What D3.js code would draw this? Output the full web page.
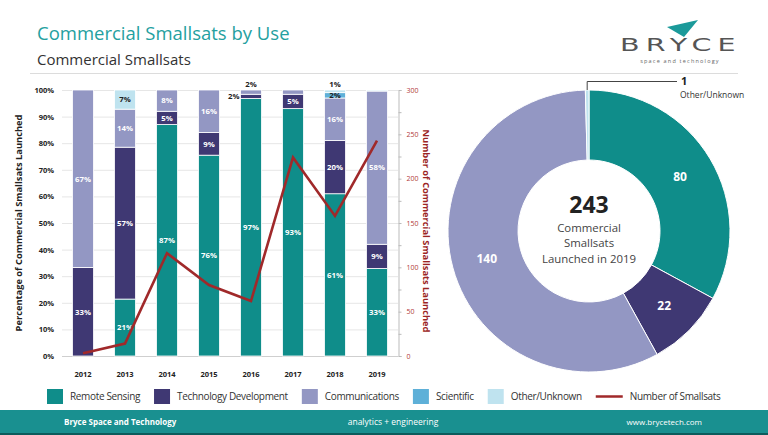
<!DOCTYPE html>
<html>
<head>
<meta charset="utf-8">
<script src="https://cdn.jsdelivr.net/npm/d3@7"></script>
<style>
  body { margin: 0; background: #fff; }
  svg { display: block; font-family: "Open Sans", sans-serif; }
</style>
</head>
<body>
<svg id="chart" width="768" height="435"></svg>
<script>
"use strict";

// shares of launches per year, in percent
const years = [2012, 2013, 2014, 2015, 2016, 2017, 2018, 2019];
const remoteSensing = [0, 21.4, 87, 75.5, 96.8, 93, 61, 32.9];
const techDevelopment = [33.3, 57.1, 5, 8.5, 1.6, 5.4, 20, 9.1];
const communications = [66.7, 14.3, 8, 16, 1.6, 1.6, 16, 57.6];
const scientific = [0, 0, 0, 0, 0, 0, 2, 0];
const otherUnknown = [0, 7.2, 0, 0, 0, 0, 1, 0.4];
const smallsatCount = [3, 14, 116, 80, 62, 224, 158, 243];

const pctTicks = [0, 10, 20, 30, 40, 50, 60, 70, 80, 90, 100];
const countTicks = [0, 50, 100, 150, 200, 250, 300];

const donutNames = ["Remote Sensing", "Technology Development", "Communications", "Other/Unknown"];
const donutValues = [80, 22, 140, 1];

const series = [
  { key: "remote", name: "Remote Sensing", values: remoteSensing, color: "#0f8d8a", text: "#fff" },
  { key: "tech", name: "Technology Development", values: techDevelopment, color: "#3f3873", text: "#fff" },
  { key: "comms", name: "Communications", values: communications, color: "#9397c3", text: "#fff" },
  { key: "sci", name: "Scientific", values: scientific, color: "#5eb0d8", text: "#222" },
  { key: "other", name: "Other/Unknown", values: otherUnknown, color: "#bfe3ef", text: "#222" }
];
const seriesColor = new Map(series.map(s => [s.name, s.color]));

// labels of thin segments that are placed outside the bar
const smallLabels = [
  { year: 2016, key: "tech", place: "left" },
  { year: 2016, key: "comms", place: "top" },
  { year: 2018, key: "sci", place: "inside" },
  { year: 2018, key: "other", place: "top" }
];

const svg = d3.select("#chart");

// ---------- header ----------
svg.append("text").attr("x", 37).attr("y", 40)
  .attr("font-size", 18.5).attr("fill", "#24a0a0")
  .text("Commercial Smallsats by Use");
svg.append("text").attr("x", 37).attr("y", 65)
  .attr("font-size", 15).attr("fill", "#333")
  .text("Commercial Smallsats");
svg.append("line").attr("x1", 30).attr("x2", 738).attr("y1", 73.5).attr("y2", 73.5)
  .attr("stroke", "#dcdcdc").attr("stroke-width", 1);

// logo
const logo = svg.append("g");
logo.append("path").attr("d", "M667,27 L698,20 L684,37 Z").attr("fill", "#1b9a9a");
logo.append("text")
  .attr("transform", "translate(620,51) scale(1.68,1.05)")
  .attr("font-family", "DejaVu Sans, sans-serif").attr("font-size", 17)
  .attr("letter-spacing", 3.6).attr("fill", "#555")
  .text("BRYCE");
logo.append("text").attr("x", 680).attr("y", 63).attr("text-anchor", "middle")
  .attr("font-size", 5.5).attr("letter-spacing", 1.2).attr("fill", "#666")
  .text("space and technology");

// ---------- stacked bars ----------
const plot = { left: 62, right: 398, top: 90, bottom: 356 };

const x = d3.scaleBand().domain(years)
  .range([plot.left, plot.right]).paddingInner(0.5).paddingOuter(0.25);
const y = d3.scaleLinear().domain([0, 100]).range([plot.bottom, plot.top]);
const yCount = d3.scaleLinear().domain([0, 300]).range([plot.bottom, plot.top]);

const table = years.map((yr, i) => {
  const row = { year: yr };
  series.forEach(s => { row[s.key] = s.values[i]; });
  return row;
});

svg.append("g")
  .selectAll("line")
  .data(pctTicks)
  .join("line")
  .attr("x1", plot.left).attr("x2", plot.right)
  .attr("y1", d => y(d) + 0.5).attr("y2", d => y(d) + 0.5)
  .attr("stroke", d => d === 0 ? "#cfcfcf" : "#e6e6e6");

svg.append("g")
  .attr("transform", `translate(${plot.left - 5},0)`)
  .call(d3.axisLeft(y).tickValues(pctTicks).tickFormat(d => d + "%").tickSize(0))
  .call(g => g.select(".domain").remove())
  .call(g => g.selectAll("text")
    .attr("font-family", "Open Sans, sans-serif").attr("font-size", 7.5)
    .attr("font-weight", 700).attr("fill", "#222"));

svg.append("g")
  .attr("transform", `translate(0,${plot.bottom + 13})`)
  .call(d3.axisBottom(x).tickSize(0))
  .call(g => g.select(".domain").remove())
  .call(g => g.selectAll("text")
    .attr("font-family", "Open Sans, sans-serif").attr("font-size", 7.5)
    .attr("font-weight", 700).attr("fill", "#222"));

const stacked = d3.stack().keys(series.map(s => s.key))(table);

const layers = svg.append("g")
  .selectAll("g")
  .data(stacked)
  .join("g")
  .attr("fill", (d, i) => series[i].color);

layers.selectAll("rect")
  .data(d => d)
  .join("rect")
  .attr("x", d => x(d.data.year))
  .attr("width", x.bandwidth())
  .attr("y", d => y(d[1]))
  .attr("height", d => Math.max(0, y(d[0]) - y(d[1])))
  .attr("stroke", "#fff").attr("stroke-width", 0.8);

// inside labels for the larger segments
const labelG = svg.append("g")
  .attr("font-size", 7.8).attr("font-weight", 700).attr("text-anchor", "middle");

stacked.forEach((layer, i) => {
  const s = series[i];
  layer.forEach(d => {
    const v = d[1] - d[0];
    if (v < 3) return;
    labelG.append("text")
      .attr("x", x(d.data.year) + x.bandwidth() / 2)
      .attr("y", y((d[0] + d[1]) / 2) + 2.8)
      .attr("fill", s.text)
      .text(Math.round(v) + "%");
  });
});

smallLabels.forEach(l => {
  const i = series.findIndex(s => s.key === l.key);
  const d = stacked[i][years.indexOf(l.year)];
  const v = d[1] - d[0];
  const cx = x(l.year) + x.bandwidth() / 2;
  const t = labelG.append("text").attr("fill", "#222").text(Math.round(v) + "%");
  if (l.place === "left") {
    t.attr("x", x(l.year) - 1).attr("y", y((d[0] + d[1]) / 2) + 2.8).attr("text-anchor", "end");
  } else if (l.place === "top") {
    t.attr("x", cx).attr("y", y(100) - 3);
  } else {
    t.attr("x", cx).attr("y", y((d[0] + d[1]) / 2) + 2.8);
  }
});

// ---------- line on right axis ----------
const line = d3.line()
  .x((d, i) => x(years[i]) + x.bandwidth() / 2)
  .y(d => yCount(d));

svg.append("path")
  .datum(smallsatCount)
  .attr("d", line)
  .attr("fill", "none")
  .attr("stroke", "#a0292a")
  .attr("stroke-width", 2.6)
  .attr("stroke-linejoin", "miter");

svg.append("g")
  .attr("transform", `translate(${plot.right + 0.5},0)`)
  .call(d3.axisRight(yCount).tickValues(d3.range(0, 301, 25))
    .tickFormat(d => countTicks.includes(d) ? d : "").tickSize(3).tickPadding(5))
  .call(g => g.select(".domain").attr("stroke", "#bbb"))
  .call(g => g.selectAll("line").attr("stroke", "#bbb"))
  .call(g => g.selectAll("text")
    .attr("font-family", "Open Sans, sans-serif").attr("font-size", 7)
    .attr("fill", "#b23a3a"));

svg.append("text")
  .attr("transform", `translate(22,${(plot.top + plot.bottom) / 2}) rotate(-90)`)
  .attr("text-anchor", "middle").attr("font-size", 9.3).attr("font-weight", 700).attr("fill", "#222")
  .text("Percentage of Commercial Smallsats Launched");

svg.append("text")
  .attr("transform", `translate(423,${(plot.top + plot.bottom) / 2 + 8}) rotate(90)`)
  .attr("text-anchor", "middle").attr("font-size", 9.3).attr("font-weight", 700).attr("fill", "#9b2423")
  .text("Number of Commercial Smallsats Launched");

// ---------- donut ----------
const center = { x: 589, y: 231 };
const outerR = 141, innerR = 71;
const pie = d3.pie().sort(null).value(d => d);
const arc = d3.arc().innerRadius(innerR).outerRadius(outerR);
const arcs = pie(donutValues);

const donut = svg.append("g").attr("transform", `translate(${center.x},${center.y})`);
donut.selectAll("path")
  .data(arcs)
  .join("path")
  .attr("d", arc)
  .attr("fill", (d, i) => seriesColor.get(donutNames[i]))
  .attr("stroke", "#fff").attr("stroke-width", 1);

donut.selectAll("text.val")
  .data(arcs.filter(d => d.value > 5))
  .join("text")
  .attr("class", "val")
  .attr("transform", d => `translate(${arc.centroid(d)})`)
  .attr("dy", "0.35em").attr("text-anchor", "middle")
  .attr("font-size", 12).attr("font-weight", 700).attr("fill", "#fff")
  .text(d => d.value);

// leader for the tiny slice
const tiny = arcs.find(d => d.value <= 5);
const tinyAngle = (tiny.startAngle + tiny.endAngle) / 2;
const tx = outerR * Math.sin(tinyAngle);
const ty = -outerR * Math.cos(tinyAngle);
donut.append("path")
  .attr("d", `M${tx},${ty} V${ty - 8.5} H${88}`)
  .attr("fill", "none").attr("stroke", "#444").attr("stroke-width", 1);
donut.append("text").attr("x", 92).attr("y", ty - 5)
  .attr("font-size", 11).attr("font-weight", 700).attr("fill", "#222")
  .text(tiny.value);
donut.append("text").attr("x", 91).attr("y", ty + 7.5)
  .attr("font-size", 8.5).attr("fill", "#333")
  .text(donutNames[donutValues.indexOf(tiny.value)]);

donut.append("text").attr("y", -18).attr("text-anchor", "middle")
  .attr("font-size", 23).attr("font-weight", 700).attr("fill", "#222")
  .text(d3.sum(donutValues));
["Commercial", "Smallsats", "Launched in 2019"].forEach((t, i) => {
  donut.append("text").attr("y", 0.5 + i * 15.6).attr("text-anchor", "middle")
    .attr("font-size", 11.4).attr("fill", "#444").text(t);
});

// ---------- legend ----------
const legend = svg.append("g").attr("font-size", 10).attr("letter-spacing", -0.35).attr("fill", "#333");
let lx = 47;
series.forEach(s => {
  legend.append("rect").attr("x", lx).attr("y", 389).attr("width", 16).attr("height", 15).attr("fill", s.color);
  const t = legend.append("text").attr("x", lx + 23).attr("y", 400).text(s.name);
  lx += 23 + t.node().getComputedTextLength() + 14;
});
legend.append("line").attr("x1", lx).attr("x2", lx + 27).attr("y1", 396.5).attr("y2", 396.5)
  .attr("stroke", "#a0292a").attr("stroke-width", 2.5);
legend.append("text").attr("x", lx + 34).attr("y", 400).text("Number of Smallsats");

// ---------- footer ----------
svg.append("rect").attr("x", 0).attr("y", 410).attr("width", 768).attr("height", 25).attr("fill", "#199090");
svg.append("rect").attr("x", 0).attr("y", 433).attr("width", 768).attr("height", 2).attr("fill", "#0c5c5c");
const foot = svg.append("g").attr("font-size", 8).attr("fill", "#fff");
foot.append("text").attr("x", 64).attr("y", 425).attr("font-weight", 700).text("Bryce Space and Technology");
foot.append("text").attr("x", 393).attr("y", 425).attr("text-anchor", "middle").attr("font-size", 8.5).text("analytics + engineering");
foot.append("text").attr("x", 702).attr("y", 425).attr("text-anchor", "end").text("www.brycetech.com");
</script>
</body>
</html>
